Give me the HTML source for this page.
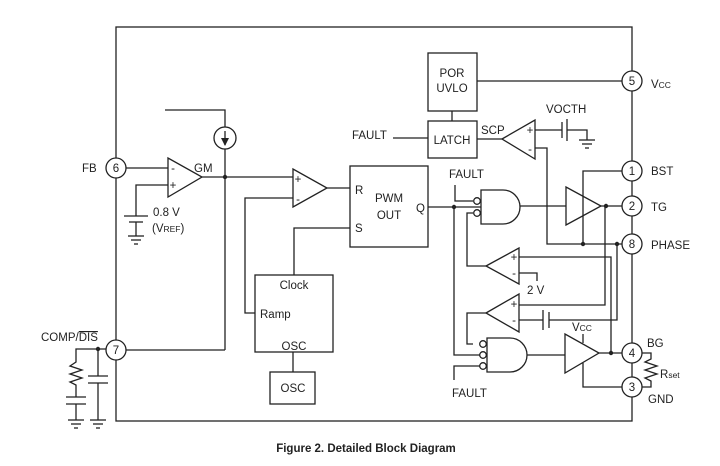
<!DOCTYPE html>
<html><head><meta charset="utf-8"><style>
html,body{margin:0;padding:0;background:#fff;}
svg{display:block;}
text{font-family:"Liberation Sans",sans-serif;font-size:11.5px;fill:#222;}
</style></head><body>
<svg width="720" height="466" viewBox="0 0 720 466" xmlns="http://www.w3.org/2000/svg">
<g fill="none" stroke="#222" stroke-width="1.3">
<rect x="116" y="27" width="516" height="394"/>
<g fill="#fff">
<circle cx="116" cy="168" r="10"/><circle cx="116" cy="350" r="10"/>
<circle cx="632" cy="81" r="10"/><circle cx="632" cy="171" r="10"/>
<circle cx="632" cy="206" r="10"/><circle cx="632" cy="244" r="10"/>
<circle cx="632" cy="353" r="10"/><circle cx="632" cy="387" r="10"/>
</g>
<polygon points="168,158 168,197 202,177"/>
<line x1="126" y1="168" x2="168" y2="168"/>
<polyline points="168,185 136,185 136,216"/>
<line x1="124" y1="216" x2="148" y2="216"/><line x1="129" y1="222" x2="143" y2="222"/>
<line x1="136" y1="222" x2="136" y2="236"/>
<line x1="128" y1="236" x2="144" y2="236"/><line x1="131" y1="240" x2="141" y2="240"/><line x1="134" y1="244" x2="138" y2="244"/>
<line x1="202" y1="177" x2="293" y2="177"/>
<polyline points="165,110 225,110 225,127"/>
<circle cx="225" cy="138" r="11"/>
<line x1="225" y1="131" x2="225" y2="145"/>
<line x1="225" y1="149" x2="225" y2="350"/>
<line x1="126" y1="350" x2="225" y2="350"/>
<polygon points="293,169 293,207 327,188"/>
<line x1="327" y1="188" x2="350" y2="188"/>
<polyline points="293,198 245,198 245,313 255,313"/>
<rect x="350" y="166" width="78" height="81"/>
<polyline points="350,228 294,228 294,275"/>
<rect x="255" y="275" width="78" height="77"/>
<line x1="293" y1="352" x2="293" y2="372"/>
<rect x="270" y="372" width="45" height="32"/>
<polyline points="106,349 76,349 76,362 70,366 82,370 70,374 82,378 70,382 76,385 76,397"/>
<line x1="66" y1="397" x2="86" y2="397"/><line x1="66" y1="404" x2="86" y2="404"/>
<line x1="76" y1="404" x2="76" y2="420"/>
<line x1="68" y1="420" x2="84" y2="420"/><line x1="71" y1="424" x2="81" y2="424"/><line x1="74" y1="428" x2="78" y2="428"/>
<line x1="98" y1="349" x2="98" y2="376"/>
<line x1="88" y1="376" x2="108" y2="376"/><line x1="88" y1="383" x2="108" y2="383"/>
<line x1="98" y1="383" x2="98" y2="420"/>
<line x1="90" y1="420" x2="106" y2="420"/><line x1="93" y1="424" x2="103" y2="424"/><line x1="96" y1="428" x2="100" y2="428"/>
<rect x="428" y="53" width="49" height="58"/>
<line x1="477" y1="81" x2="622" y2="81"/>
<line x1="452" y1="111" x2="452" y2="121"/>
<rect x="428" y="121" width="49" height="37"/>
<line x1="393" y1="138" x2="428" y2="138"/>
<line x1="477" y1="139" x2="502" y2="139"/>
<polygon points="502,139 535,120 535,159"/>
<line x1="535" y1="130" x2="562" y2="130"/>
<line x1="562" y1="122" x2="562" y2="138"/><line x1="567" y1="119" x2="567" y2="141"/>
<polyline points="567,130 587,130 587,140"/>
<line x1="579" y1="140" x2="595" y2="140"/><line x1="582" y1="144" x2="592" y2="144"/><line x1="585" y1="148" x2="589" y2="148"/>
<polyline points="535,148 547,148 547,244 622,244"/>
<polyline points="622,171 583,171 583,244"/>
<polygon points="566,187 566,225 601,206"/>
<line x1="601" y1="206" x2="622" y2="206"/>
<path d="M481,190 L503,190 A17,17 0 0 1 503,224 L481,224 Z"/>
<circle cx="477" cy="201" r="3.3"/><circle cx="477" cy="213" r="3.3"/>
<polyline points="455,185 455,201 473,201"/>
<line x1="428" y1="207" x2="481" y2="207"/>
<line x1="520" y1="206" x2="566" y2="206"/>
<polyline points="473,213 467,213 467,266 486,266"/>
<polygon points="486,266 519,248 519,284"/>
<polyline points="519,257 611,257 611,353"/>
<polyline points="519,273 537,273 537,281"/>
<polygon points="486,313 519,294 519,332"/>
<polyline points="519,305 605,305 605,206"/>
<line x1="519" y1="320" x2="543" y2="320"/>
<line x1="543" y1="310" x2="543" y2="330"/><line x1="549" y1="312" x2="549" y2="328"/>
<polyline points="549,320 617,320 617,244"/>
<polyline points="486,313 467,313 467,344 473,344"/>
<path d="M487,338 L510,338 A17,17 0 0 1 510,372 L487,372 Z"/>
<circle cx="483" cy="344" r="3.3"/><circle cx="483" cy="355" r="3.3"/><circle cx="483" cy="366" r="3.3"/>
<polyline points="454,207 454,355 480,355"/>
<polyline points="480,366 454,366 454,380"/>
<line x1="527" y1="355" x2="565" y2="355"/>
<polygon points="565,334 565,373 599,353"/>
<line x1="583" y1="334" x2="583" y2="343"/>
<polyline points="583,363 583,387 622,387"/>
<line x1="599" y1="353" x2="622" y2="353"/>
<polyline points="642,353 651,353 651,359 645,362 657,366 645,370 657,374 645,378 651,381 651,387 642,387"/>
</g>
<g fill="#222">
<circle cx="225" cy="177" r="2.2"/><circle cx="98" cy="349" r="2.2"/>
<circle cx="454" cy="207" r="2.2"/><circle cx="583" cy="244" r="2.2"/>
<circle cx="617" cy="244" r="2.2"/><circle cx="606" cy="206" r="2.2"/>
<circle cx="611" cy="353" r="2.2"/>
<polygon points="221,138 229,138 225,146"/>
</g>
<g font-size="9" text-anchor="middle">
<text x="173" y="172">-</text><text x="173" y="189">+</text>
<text x="298" y="183">+</text><text x="298" y="203">-</text>
<text x="530" y="134">+</text><text x="530" y="153">-</text>
<text x="514" y="261">+</text><text x="514" y="277">-</text>
<text x="514" y="308">+</text><text x="514" y="324">-</text>
</g>
<g text-anchor="middle" font-size="10.5">
<text x="116" y="172">6</text><text x="116" y="354">7</text>
<text x="632" y="85">5</text><text x="632" y="175">1</text>
<text x="632" y="210">2</text><text x="632" y="248">8</text>
<text x="632" y="357">4</text><text x="632" y="391">3</text>
</g>
<text x="82" y="172">FB</text>
<text x="194" y="172">GM</text>
<text x="153" y="216">0.8 V</text>
<text x="152" y="232">(V<tspan font-size="8.5">REF</tspan>)</text>
<text x="41" y="341">COMP/<tspan text-decoration="overline">DIS</tspan></text>
<text x="355" y="194">R</text><text x="355" y="232">S</text>
<text x="389" y="202" text-anchor="middle">PWM</text>
<text x="389" y="219" text-anchor="middle">OUT</text>
<text x="416" y="212">Q</text>
<text x="294" y="289" text-anchor="middle">Clock</text>
<text x="260" y="318">Ramp</text>
<text x="294" y="350" text-anchor="middle">OSC</text>
<text x="293" y="392" text-anchor="middle">OSC</text>
<text x="452" y="77" text-anchor="middle">POR</text>
<text x="452" y="92" text-anchor="middle">UVLO</text>
<text x="452" y="144" text-anchor="middle">LATCH</text>
<text x="352" y="139">FAULT</text>
<text x="481" y="134">SCP</text>
<text x="546" y="113">VOCTH</text>
<text x="449" y="178">FAULT</text>
<text x="452" y="397">FAULT</text>
<text x="527" y="294">2 V</text>
<text x="572" y="331">V<tspan font-size="8.5">CC</tspan></text>
<text x="651" y="88">V<tspan font-size="8.5">CC</tspan></text>
<text x="651" y="175">BST</text>
<text x="651" y="211">TG</text>
<text x="651" y="249">PHASE</text>
<text x="647" y="347">BG</text>
<text x="660" y="378">R<tspan font-size="8.5">set</tspan></text>
<text x="648" y="403">GND</text>
<text x="366" y="452" text-anchor="middle" font-weight="bold" font-size="14.5">Figure 2. Detailed Block Diagram</text>
</svg>
</body></html>
